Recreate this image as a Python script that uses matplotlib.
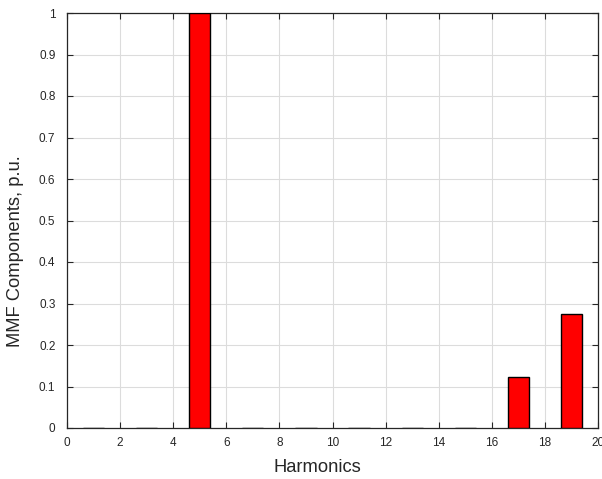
import matplotlib
matplotlib.use("Agg")
import matplotlib.pyplot as plt

harmonics = [1, 3, 5, 7, 9, 11, 13, 15, 17, 19]
mmf = [0.0, 0.0, 1.0, 0.0, 0.0, 0.0, 0.0, 0.0, 0.122, 0.275]
xticks = [0, 2, 4, 6, 8, 10, 12, 14, 16, 18, 20]
yticks = [0, 0.1, 0.2, 0.3, 0.4, 0.5, 0.6, 0.7, 0.8, 0.9, 1]
ytick_labels = ["0", "0.1", "0.2", "0.3", "0.4", "0.5", "0.6", "0.7", "0.8", "0.9", "1"]

plt.rcParams['font.family'] = ['Liberation Sans', 'DejaVu Sans']

fig = plt.figure(figsize=(6.02, 4.79), dpi=100)
ax = fig.add_axes([67/602, 1 - 428/479, (598-67)/602, (428-13)/479])
ax.bar(harmonics, mmf, width=0.8, color='#ff0000', edgecolor='black', linewidth=1.0, zorder=3)
ax.set_xlim(0, 20)
ax.set_ylim(0, 1)
ax.set_xticks(xticks)
ax.set_yticks(yticks)
ax.set_yticklabels(ytick_labels)
ax.grid(True, color='#dcdcdc', linewidth=0.8, zorder=0)
ax.set_axisbelow(True)
ax.tick_params(direction='in', top=True, right=True, length=4, width=0.8,
               labelsize=8.5, colors='#262626')
ax.tick_params(axis='x', pad=6.5)
ax.tick_params(axis='y', pad=8.3)
for s in ax.spines.values():
    s.set_color('#262626')
    s.set_linewidth(0.9)
xl = ax.set_xlabel('Harmonics', fontsize=13.2, color='#262626')
yl = ax.set_ylabel('MMF Components, p.u.', fontsize=13.2, color='#262626')
xl.set_verticalalignment('center')
yl.set_verticalalignment('center')
ax.xaxis.set_label_coords((317-67)/531, (428-468)/415)
ax.yaxis.set_label_coords((15.5-67)/531, (428-251.5)/415)
fig.savefig('out.png', dpi=100)
